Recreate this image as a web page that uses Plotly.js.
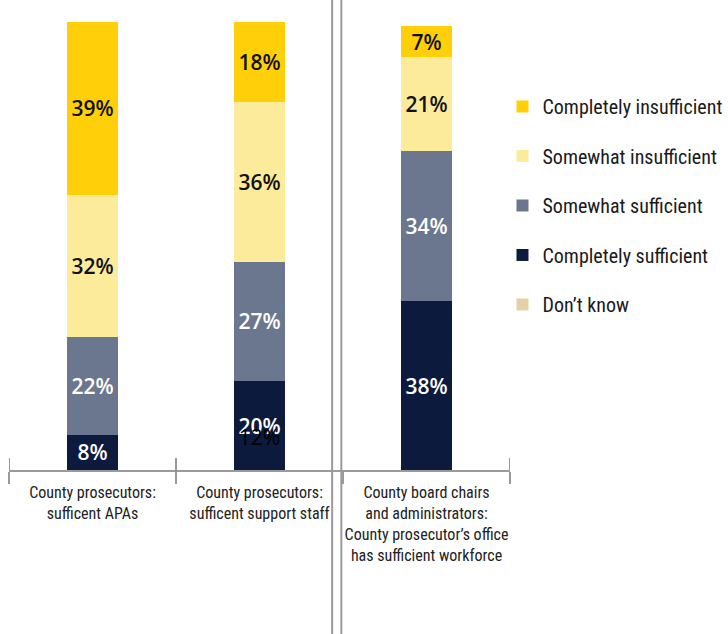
<!DOCTYPE html>
<html>
<head>
<meta charset="utf-8">
<script src="https://cdn.plot.ly/plotly-3.0.1.min.js"></script>
<style>
html,body{margin:0;padding:0;background:#fff;}
#chart{width:728px;height:634px;}
#chart .legendtext, #chart .xtick text { font-stretch: 75% !important; }
</style>
</head>
<body>
<div id="chart"></div>
<script>
const categories = [
  "County prosecutors:<br>sufficent APAs",
  "County prosecutors:<br>sufficent support staff",
  "County board chairs<br>and administrators:<br>County prosecutor\u2019s office<br>has sufficient workforce"
];
const completelySufficient = [8, 20, 38];
const somewhatSufficient = [22, 27, 34];
const somewhatInsufficient = [32, 36, 21];
const completelyInsufficient = [39, 18, 7];
const dontKnow = [0, 0, 0];
// stray label visible in the original, behind the 20% label of the second bar
const strayLabelCategory = [categories[1]];
const strayLabelValue = [6.8];
const strayLabelText = ["12%"];

const condensed = "Roboto, 'Liberation Sans Narrow', sans-serif";
const labelFont = "'Open Sans', 'Noto Sans', sans-serif";

function barTrace(name, vals, color, textColor, rank) {
  return {
    type: 'bar', name: name, x: categories, y: vals,
    width: 0.3,
    marker: {color: color, line: {width: 0}},
    text: vals.map(v => v > 0 ? v + '%' : ''),
    texttemplate: '%{text}',
    textposition: 'inside', insidetextanchor: 'middle',
    textfont: {family: labelFont, size: 21, color: textColor, weight: 600},
    constraintext: 'none',
    legendgroup: name, legendrank: rank,
    hoverinfo: 'skip'
  };
}

const traces = [
  barTrace('Completely sufficient', completelySufficient, '#0B1A3D', '#ffffff', 4),
  barTrace('Somewhat sufficient', somewhatSufficient, '#6B778E', '#ffffff', 3),
  barTrace('Somewhat insufficient', somewhatInsufficient, '#FCEB9B', '#111111', 2),
  barTrace('Completely insufficient', completelyInsufficient, '#FFD00A', '#111111', 1),
  barTrace('Don\u2019t know', dontKnow, '#E6CFA5', '#111111', 5),
  {
    type: 'scatter', mode: 'text', x: strayLabelCategory, y: strayLabelValue,
    text: strayLabelText, textposition: 'middle center',
    textfont: {family: labelFont, size: 21, color: '#000000', weight: 400},
    showlegend: false, hoverinfo: 'skip'
  }
];

const gray = '#9a9a9a';
const layout = {
  width: 728, height: 634,
  margin: {l: 9, r: 218, t: 22, b: 164, autoexpand: false},
  paper_bgcolor: '#ffffff', plot_bgcolor: '#ffffff',
  barmode: 'stack',
  showlegend: true,
  legend: {
    x: 0.985, xanchor: 'left', y: 0.855, yanchor: 'top',
    font: {family: condensed, size: 20, color: '#1a1a1a'},
    tracegroupgap: 20.5, itemwidth: 30
  },
  xaxis: {
    type: 'category', range: [-0.5, 2.5],
    showline: true, linecolor: gray, linewidth: 2,
    ticks: 'outside', tickson: 'boundaries', ticklen: 12, tickcolor: gray, tickwidth: 2,
    tickangle: 0, automargin: false, ticklabelstandoff: 7,
    showgrid: false, zeroline: false,
    tickfont: {family: condensed, size: 16, color: '#222222'}
  },
  yaxis: {
    range: [0, 101], visible: false, showgrid: false, zeroline: false
  },
  shapes: [
    {type: 'line', xref: 'x', yref: 'y', x0: -0.5, x1: -0.5, y0: 0, y1: 2.7, line: {color: gray, width: 2}},
    {type: 'line', xref: 'x', yref: 'y', x0: 0.5, x1: 0.5, y0: 0, y1: 2.7, line: {color: gray, width: 2}},
    {type: 'line', xref: 'x', yref: 'y', x0: 2.5, x1: 2.5, y0: 0, y1: 2.7, line: {color: gray, width: 2}},
    {type: 'line', xref: 'x', yref: 'paper', x0: 1.435, x1: 1.435, y0: -0.37, y1: 1.06, line: {color: gray, width: 2}},
    {type: 'line', xref: 'x', yref: 'paper', x0: 1.49, x1: 1.49, y0: -0.37, y1: 1.06, line: {color: gray, width: 2}}
  ]
};

Plotly.newPlot('chart', traces, layout, {displayModeBar: false, staticPlot: true});
</script>
</body>
</html>
